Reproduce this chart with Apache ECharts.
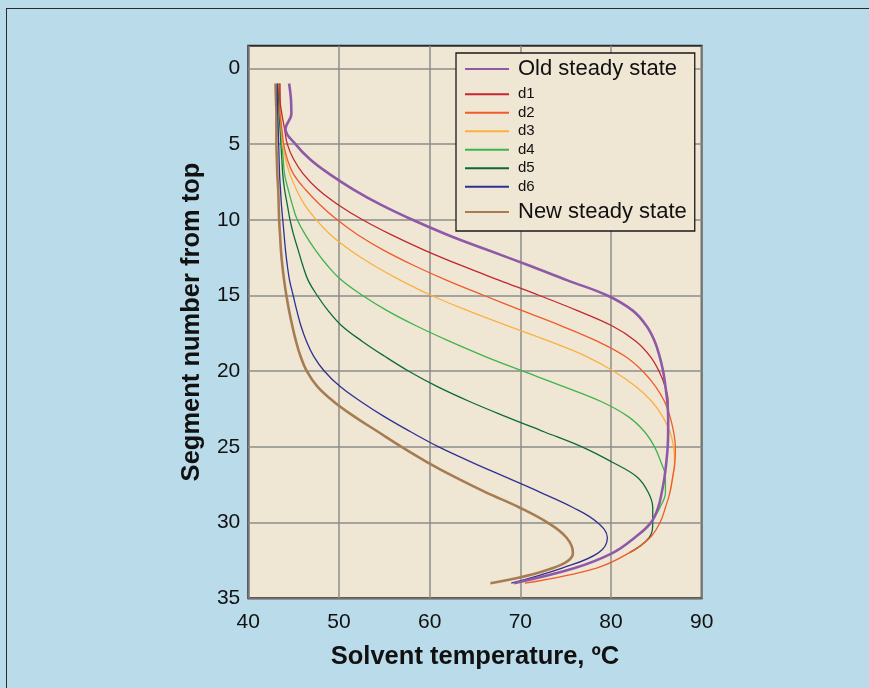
<!DOCTYPE html>
<html><head><meta charset="utf-8">
<script src="https://cdn.jsdelivr.net/npm/echarts@6/dist/echarts.min.js"></script>
<style>
html,body{margin:0;padding:0;background:#badbe9;width:869px;height:688px;overflow:hidden;}
#frame{position:absolute;left:6px;top:8px;width:863px;height:680px;border-left:1.5px solid #2a2a2a;border-top:1.5px solid #2a2a2a;}
#chart{position:absolute;left:0;top:0;width:869px;height:688px;}
</style></head><body>
<div id="frame"></div><div id="chart"></div>
<script>
// Segment numbers (y) and solvent temperatures (x, °C)
const segments = [1,2,3,4,5,6,7,8,9,10,11,12,13,14,15,16,17,18,19,20,21,22,23,24,25,26,27,28,29,30,31,32,33,34];
const oldSteady = [44.5,44.7,44.75,44.1,45.2,46.8,49.0,51.6,54.6,58.1,62.0,66.4,70.9,75.2,79.6,82.4,83.9,84.8,85.35,85.75,86.0,86.2,86.3,86.3,86.25,86.1,85.9,85.6,85.2,84.4,82.6,80.2,76.0,69.3];
const d1 = [43.5,43.5,43.7,44.0,44.3,45.0,46.1,47.7,49.9,52.6,55.8,59.4,63.4,67.7,72.1,76.3,80.1,82.7,84.3,85.3,85.95,86.3,86.3,86.3];
const d2 = [43.4,43.45,43.5,43.7,43.9,44.3,45.0,46.3,47.9,49.8,52.1,54.9,58.2,61.9,66.0,70.2,74.5,78.4,81.5,83.5,84.9,85.9,86.5,86.9,87.1,87.05,86.8,86.5,86.0,85.4,84.3,82.0,78.4,70.5];
const d3 = [43.4,43.5,43.55,43.65,43.8,44.1,44.6,45.3,46.2,47.5,49.1,51.2,53.8,56.8,60.2,64.2,68.6,73.1,77.2,80.3,82.7,84.5,85.7,86.5,86.9,87.0,86.8,86.5];
const d4 = [43.4,43.45,43.5,43.6,43.7,43.85,44.0,44.4,44.85,45.4,46.3,47.4,48.7,50.3,52.6,55.3,58.5,62.1,66.0,70.3,74.7,78.9,81.9,83.7,84.8,85.5,86.0,86.0,85.4,84.4];
const d5 = [43.3,43.35,43.4,43.5,43.6,43.7,43.8,44.0,44.3,44.6,45.0,45.5,46.0,46.6,47.6,48.8,50.3,52.5,55.0,57.7,60.8,64.4,68.4,72.6,76.8,80.1,82.9,84.1,84.6,84.6,84.2,82.0];
const d6 = [43.2,43.2,43.25,43.3,43.35,43.4,43.45,43.55,43.65,43.8,43.95,44.1,44.3,44.55,44.95,45.35,45.8,46.4,47.2,48.4,50.1,52.4,55.0,57.9,61.0,64.6,68.4,72.2,75.8,78.5,79.6,78.6,74.6,69.0];
const newSteady = [43.0,43.05,43.1,43.1,43.1,43.15,43.2,43.3,43.35,43.4,43.5,43.6,43.75,43.95,44.2,44.5,44.85,45.25,45.75,46.45,47.6,49.4,51.7,54.3,56.9,59.7,62.8,66.2,69.9,73.0,75.1,75.8,73.6,66.7];

const seriesNames = ['Old steady state','d1','d2','d3','d4','d5','d6','New steady state'];
const seriesValues = [oldSteady, d1, d2, d3, d4, d5, d6, newSteady];
const seriesColors = ['#8e5aa8','#c4262e','#f15a29','#fbb040','#3cb54a','#0b6b35','#2e3192','#a67c52'];
const seriesWidths = [2.6,1.3,1.3,1.3,1.3,1.3,1.3,2.6];
const xTicks = [40,50,60,70,80,90];
const yTicks = [0,5,10,15,20,25,30,35];

const FONT = '"Liberation Sans", Arial, Helvetica, sans-serif';

const series = [];
for (let i = seriesNames.length - 1; i >= 0; i--) {
  series.push({
    name: seriesNames[i],
    type: 'line',
    smooth: 0.4,
    symbol: 'none',
    color: seriesColors[i],
    lineStyle: { width: seriesWidths[i], color: seriesColors[i] },
    data: seriesValues[i].map((t, k) => [t, segments[k]]),
    animation: false
  });
}

const legendData = seriesNames.map((n, i) => {
  const big = (i === 0 || i === seriesNames.length - 1);
  return {
    name: n,
    textStyle: {
      fontFamily: FONT, color: '#111',
      fontSize: big ? 22 : 15,
      lineHeight: big ? 32 : 18.5,
      padding: [0, 0, 0, 4]
    }
  };
});

const chart = echarts.init(document.getElementById('chart'), null, { renderer: 'canvas' });
chart.setOption({
  backgroundColor: 'transparent',
  animation: false,
  grid: {
    left: 248.3, right: 167.3, top: 45.7, bottom: 89.7,
    show: true, backgroundColor: '#f0e6d4', borderColor: '#2b2b2b', borderWidth: 2
  },
  legend: {
    orient: 'vertical', left: 456, top: 53,
    backgroundColor: '#f0e6d4', borderColor: '#1a1a1a', borderWidth: 1.3, borderRadius: 0,
    padding: [0, 8, 3, 8], itemGap: 0, itemWidth: 44, itemHeight: 12,
    itemStyle: { opacity: 0 },
    data: legendData
  },
  xAxis: {
    type: 'value', min: 40, max: 90, interval: 10,
    axisLine: { show: false }, axisTick: { show: false },
    axisLabel: { fontFamily: FONT, fontSize: 21, color: '#111', margin: 13, customValues: xTicks },
    splitLine: { show: true, lineStyle: { color: '#8d8d8d', width: 1.5 } },
    name: 'Solvent temperature, ºC', nameLocation: 'middle', nameGap: 46,
    nameTextStyle: { fontFamily: FONT, fontSize: 25.5, fontWeight: 'bold', color: '#111' }
  },
  yAxis: {
    type: 'value', inverse: true, min: -1.5, max: 35,
    axisLine: { show: false },
    axisTick: { show: false, customValues: yTicks },
    axisLabel: { fontFamily: FONT, fontSize: 21, color: '#111', margin: 8, customValues: yTicks },
    splitLine: { show: true, lineStyle: { color: '#8d8d8d', width: 1.5 } },
    name: 'Segment number from top', nameLocation: 'middle', nameGap: 43,
    nameTextStyle: { fontFamily: FONT, fontSize: 25.5, fontWeight: 'bold', color: '#111' }
  },
  series: series
});
</script>
</body></html>
